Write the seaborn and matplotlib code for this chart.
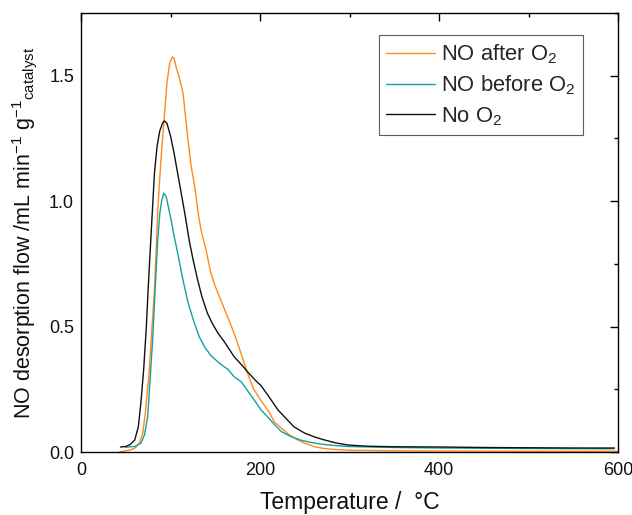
import matplotlib
matplotlib.use("Agg")
import matplotlib.pyplot as plt
import seaborn as sns
import numpy as np
import pandas as pd
from matplotlib.ticker import MultipleLocator

# Data
temp_no_o2 = [44, 50, 55, 60, 64, 67, 70, 73, 75, 78, 82, 85, 88, 91, 93, 96, 100, 104, 108, 112,
              116, 121, 125, 130, 135, 141, 147, 153, 160, 171, 180, 186, 195, 201, 210, 220, 230,
              238, 250, 261, 270, 285, 298, 320, 350, 400, 450, 500, 550, 596]
flow_no_o2 = [0.02, 0.022, 0.03, 0.048, 0.1, 0.2, 0.33, 0.5, 0.65, 0.85, 1.11, 1.22, 1.28, 1.31, 1.32,
              1.31, 1.26, 1.19, 1.11, 1.03, 0.95, 0.84, 0.77, 0.69, 0.62, 0.555, 0.51, 0.474, 0.44,
              0.38, 0.345, 0.32, 0.285, 0.265, 0.22, 0.168, 0.13, 0.10, 0.075, 0.06, 0.05, 0.036,
              0.028, 0.023, 0.021, 0.02, 0.018, 0.017, 0.016, 0.016]

temp_after = [43, 50, 55, 60, 65, 69, 72, 76, 79, 82, 86, 89, 91, 94, 96, 99, 102, 104, 106, 110,
              114, 119, 123, 127, 131, 134, 140, 145, 150, 156, 163, 171, 179, 186, 193, 201, 210,
              216, 224, 232, 242, 250, 261, 270, 279, 300, 350, 400, 500, 600]
flow_after = [0.0, 0.005, 0.008, 0.015, 0.035, 0.075, 0.16, 0.314, 0.48, 0.646, 0.979, 1.15, 1.245,
              1.38, 1.471, 1.55, 1.575, 1.57, 1.537, 1.49, 1.43, 1.26, 1.14, 1.059, 0.95, 0.886,
              0.8, 0.713, 0.66, 0.607, 0.545, 0.474, 0.39, 0.314, 0.25, 0.205, 0.16, 0.12, 0.095,
              0.07, 0.048, 0.035, 0.021, 0.015, 0.011, 0.007, 0.005, 0.004, 0.003, 0.003]

temp_before = [50, 60, 67, 71, 74.5, 77, 80, 83, 85.7, 88, 90, 92.4, 95, 98, 100.6, 104, 108, 112,
               115.5, 120, 126.6, 132, 137.8, 145, 152.7, 158, 164, 171, 179, 186, 194, 201, 209,
               216, 224, 231, 235, 245, 253, 265, 280, 298, 350, 400, 500, 595]
flow_before = [0.019, 0.022, 0.035, 0.07, 0.141, 0.28, 0.447, 0.66, 0.846, 0.95, 1.0, 1.032, 1.02,
               0.97, 0.926, 0.86, 0.793, 0.72, 0.66, 0.59, 0.514, 0.46, 0.42, 0.385, 0.36, 0.345,
               0.33, 0.30, 0.28, 0.245, 0.205, 0.168, 0.138, 0.11, 0.081, 0.068, 0.061, 0.048,
               0.041, 0.033, 0.027, 0.022, 0.018, 0.016, 0.014, 0.013]

labels = ["NO after O$_2$", "NO before O$_2$", "No O$_2$"]
colors = ["#ff8a1c", "#16a0a0", "#111111"]

sns.set_theme(style="white")
plt.rcParams['font.family'] = ['Liberation Sans', 'DejaVu Sans']
plt.rcParams['mathtext.fontset'] = 'custom'
plt.rcParams['mathtext.rm'] = 'Liberation Sans'
plt.rcParams['mathtext.it'] = 'Liberation Sans'
plt.rcParams['mathtext.default'] = 'regular'

fig = plt.figure(figsize=(6.32, 5.15), dpi=100)
ax = fig.add_axes([0.1282, 0.1223, 0.978 - 0.1282, 0.9748 - 0.1223])

series = [(temp_after, flow_after), (temp_before, flow_before), (temp_no_o2, flow_no_o2)]
for (xs, ys), lab, col in zip(series, labels, colors):
    sns.lineplot(x=xs, y=ys, ax=ax, color=col, label=lab, linewidth=1.0, sort=False, estimator=None)

ax.set_xlim(0, 600)
ax.set_ylim(0, 1.75)
ax.xaxis.set_major_locator(MultipleLocator(200))
ax.xaxis.set_minor_locator(MultipleLocator(100))
ax.yaxis.set_major_locator(MultipleLocator(0.5))
ax.yaxis.set_minor_locator(MultipleLocator(0.25))
ax.yaxis.set_major_formatter(matplotlib.ticker.FormatStrFormatter('%.1f'))
ax.tick_params(which='both', direction='in', top=True, right=True, color='black',
               labelsize=13, labelcolor='#111111', width=1.0)
ax.tick_params(which='major', length=6)
ax.tick_params(which='minor', length=3)
ax.tick_params(axis='x', which='major', pad=7)
ax.tick_params(axis='y', which='major', pad=5)
for s in ax.spines.values():
    s.set_color('black')
    s.set_linewidth(1.0)

ax.set_xlabel("Temperature /  °C", fontsize=16.5, labelpad=9, color='#111111')
ax.set_ylabel("NO desorption flow /mL min$^{-1}$ g$^{-1}{}_{catalyst}$", fontsize=15.5,
              labelpad=7, color='#111111')

leg = ax.legend(loc='upper right', bbox_to_anchor=(0.9355, 0.950), fontsize=15.8, frameon=True,
                fancybox=False, edgecolor='#333333', handlelength=2.2, handletextpad=0.3,
                borderpad=0.35, labelspacing=0.35, borderaxespad=0.0)
leg.get_frame().set_linewidth(0.8)

fig.savefig("out.png", dpi=100)
